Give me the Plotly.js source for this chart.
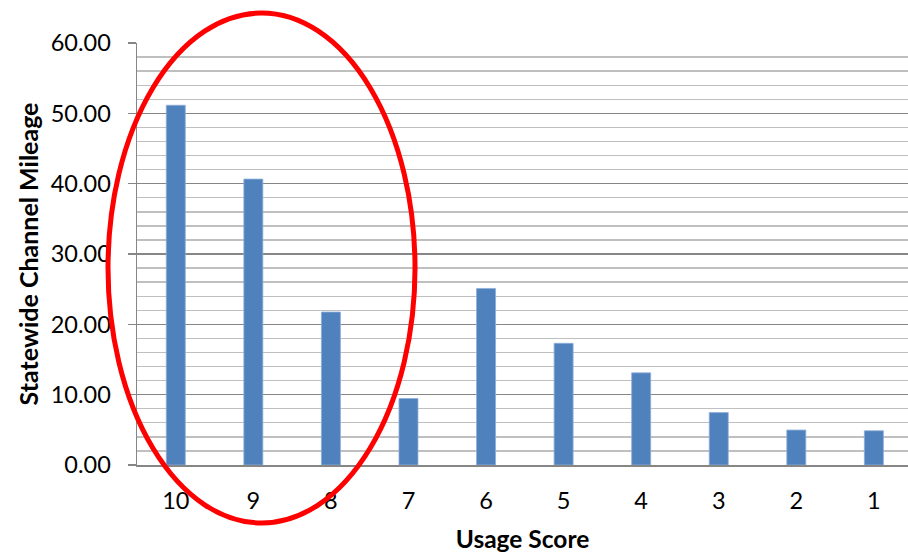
<!DOCTYPE html>
<html>
<head>
<meta charset="utf-8">
<script src="https://cdn.plot.ly/plotly-3.0.1.min.js"></script>
<style>html,body{margin:0;padding:0;background:#fff;}#chart{width:908px;height:553px;}</style>
</head>
<body>
<div id="chart"></div>
<script>
const usageScores = ['10','9','8','7','6','5','4','3','2','1'];
const mileage = [51.15, 40.65, 21.75, 9.45, 25.1, 17.3, 13.1, 7.45, 4.97, 4.87];
const yTitle = 'Statewide Channel Mileage';
const xTitle = 'Usage Score';

const trace = {
  type: 'bar',
  x: usageScores,
  y: mileage,
  marker: {color: '#4f81bd', line: {color: '#8eaedb', width: 0.8}},
  hoverinfo: 'x+y'
};

const font = 'Lato, "Open Sans", sans-serif';
const layout = {
  width: 908, height: 553,
  margin: {l: 137, r: 0, t: 43, b: 88, pad: 0},
  paper_bgcolor: '#ffffff', plot_bgcolor: '#ffffff',
  bargap: 0.755,
  showlegend: false,
  font: {family: font, color: '#000000', size: 23.5},
  xaxis: {
    type: 'category',
    range: [-0.5, 9.44],
    showline: true, linecolor: '#868686', linewidth: 1.5,
    ticks: '', ticklabelstandoff: 14,
    tickfont: {family: font, size: 23.5, color: '#000'},
    showgrid: false, zeroline: false,
    title: {text: xTitle, font: {family: font, size: 24.5, color: '#000', weight: 'bold'}, standoff: 18}
  },
  yaxis: {
    range: [0, 60],
    dtick: 10, tick0: 0,
    tickformat: '.2f',
    showline: true, linecolor: '#868686', linewidth: 1.5,
    ticks: 'outside', ticklen: 8, tickcolor: '#868686', tickwidth: 1.5,
    ticklabelstandoff: 12,
    tickfont: {family: font, size: 23.5, color: '#000'},
    showgrid: true, gridcolor: '#868686', gridwidth: 1.4,
    minor: {dtick: 2, showgrid: true, gridcolor: '#bfbfbf', gridwidth: 1.4},
    zeroline: false,
    title: {text: yTitle, font: {family: font, size: 25, color: '#000', weight: 'bold'}, standoff: 5}
  },
  shapes: [{
    type: 'circle', xref: 'paper', yref: 'paper',
    x0: -0.0376, x1: 0.3606, y0: -0.1374, y1: 1.0711,
    line: {color: '#ff0000', width: 5},
    layer: 'above'
  }]
};

Plotly.newPlot('chart', [trace], layout, {displayModeBar: false, staticPlot: true});
</script>
</body>
</html>
